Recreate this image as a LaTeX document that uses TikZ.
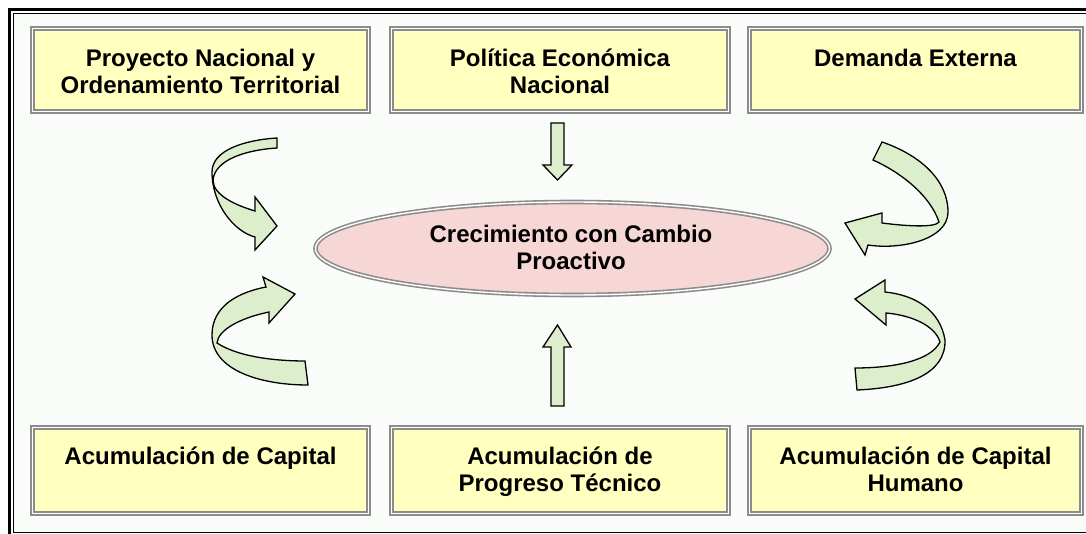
\documentclass[tikz,border=0pt]{standalone}
\usepackage{fontspec}
\setmainfont{Liberation Sans}
\definecolor{boxfill}{RGB}{255,255,192}
\definecolor{boxedge}{RGB}{140,140,140}
\definecolor{ellfill}{RGB}{247,214,214}
\definecolor{arrfill}{RGB}{220,238,204}
\definecolor{bgfill}{RGB}{249,252,249}
\begin{document}
\begin{tikzpicture}[x=1pt,y=-1pt,
  boxstyle/.style={draw=boxedge,line width=1.8pt,double=white,double distance=1.6pt,fill=boxfill},
  ellstyle/.style={draw=boxedge,line width=1.6pt,double=white,double distance=1.4pt,fill=ellfill},
  lbl/.style={inner sep=0pt,anchor=north,align=center,font=\bfseries\fontsize{24}{27.5}\selectfont},
  arr/.style={draw=black,line width=1.3pt,fill=arrfill,line join=miter}]
\useasboundingbox (0,0) rectangle (1086,534);
\fill[white] (0,0) rectangle (1086,534);
\fill[bgfill] (13,13) rectangle (1090,532);
% frame
\draw[line width=3pt] (9.5,540) -- (9.5,9.5) -- (1095,9.5);
\draw[line width=1pt] (13.5,532.5) -- (13.5,13.5) -- (1095,13.5);
\draw[line width=1.5pt] (13.5,532.5) -- (1095,532.5);
% boxes
\draw[boxstyle] (32.5,28.5) rectangle (368.5,111.5);
\draw[boxstyle] (391.5,28.5) rectangle (728.5,111.5);
\draw[boxstyle] (749.5,28.5) rectangle (1081.5,111.5);
\draw[boxstyle] (32.5,427.5) rectangle (368.5,513.5);
\draw[boxstyle] (391.5,427.5) rectangle (728.5,513.5);
\draw[boxstyle] (749.5,427.5) rectangle (1081.5,513.5);
\node[lbl] (t1) at (200.5,46) {\rule{0pt}{20pt}Proyecto Nacional y\\Ordenamiento Territorial};
\node[lbl] (t2) at (560,46) {\rule{0pt}{20pt}Política Económica\\Nacional};
\node[lbl] (t3) at (915.5,46) {\rule{0pt}{20pt}Demanda Externa};
\node[lbl] (b1) at (200.5,444) {\rule{0pt}{20pt}Acumulación de Capital};
\node[lbl] (b2) at (560,444) {\rule{0pt}{20pt}Acumulación de\\Progreso Técnico};
\node[lbl] (b3) at (915.5,444) {\rule{0pt}{20pt}Acumulación de Capital\\Humano};
% ellipse
\draw[ellstyle] (572.5,248.5) ellipse [x radius=257, y radius=46.5];
\node[lbl] (c) at (571,222) {\rule{0pt}{20pt}Crecimiento con Cambio\\Proactivo};
% straight arrows
\draw[arr] (551,123) -- (564,123) -- (564,165) -- (572,165) -- (557.5,180) -- (543,165) -- (551,165) -- cycle;
\draw[arr] (551,406) -- (564,406) -- (564,347) -- (571,347) -- (557.5,325) -- (543,347) -- (551,347) -- cycle;
% curved arrows left top
\draw[arr] (277,138) .. controls (245,140) and (212,150) .. (212,172)
  .. controls (212,205) and (235,232) .. (255,237)
  -- (255,250) -- (277,226) -- (255,197) -- (255,211)
  .. controls (235,205) and (213,195) .. (213,180)
  .. controls (215,160) and (245,150) .. (277,148) -- cycle;
% left bottom
\draw[arr] (308,385) .. controls (260,385) and (212,370) .. (212,335)
  .. controls (212,305) and (240,292) .. (266,287)
  -- (263,277) -- (295,294) -- (269,323) -- (269,312)
  .. controls (240,318) and (218,330) .. (217,343)
  .. controls (240,358) and (280,361) .. (305,361) -- cycle;
% right top
\draw[arr] (882,142) .. controls (920,155) and (948,180) .. (948,212)
  .. controls (948,240) and (900,250) .. (868,245)
  -- (865,255) -- (845,223) -- (882,213) -- (882,223)
  .. controls (905,226) and (935,228) .. (939,222)
  .. controls (930,195) and (900,172) .. (873,160) -- cycle;
% right bottom
\draw[arr] (857,390) .. controls (905,388) and (946,375) .. (945,340)
  .. controls (940,310) and (915,295) .. (885,292)
  -- (885,280) -- (855,299) -- (886,325) -- (886,313)
  .. controls (910,315) and (935,325) .. (940,342)
  .. controls (930,362) and (890,368) .. (855,368) -- cycle;
\end{tikzpicture}
\end{document}
